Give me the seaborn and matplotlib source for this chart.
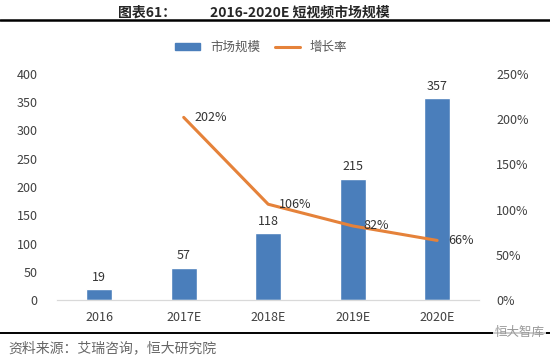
import numpy as np
import matplotlib
matplotlib.use("Agg")
import matplotlib.pyplot as plt
import seaborn as sns
from matplotlib.patches import Patch
from matplotlib.lines import Line2D

years = ["2016", "2017E", "2018E", "2019E", "2020E"]
market_size = [19, 57, 118, 215, 357]
growth_years = ["2017E", "2018E", "2019E", "2020E"]
growth_rate = [202, 106, 82, 66]

bar_color = "#4A7EBB"
line_color = "#E5823A"

sns.set_style("white")
plt.rcParams["font.family"] = ["Noto Sans CJK SC", "DejaVu Sans"]

fig = plt.figure(figsize=(5.5, 3.59), dpi=100)
ax = fig.add_axes([0.1036, 0.164, 0.768, 0.630])

sns.barplot(x=years, y=market_size, color=bar_color, width=0.31, saturation=1, ax=ax)
ax.set_ylim(0, 400)
ax.set_yticks(range(0, 401, 50))
ax.set_xlim(-0.5, len(years) - 0.5)
for i, v in enumerate(market_size):
    ax.annotate(str(v), (i, v), xytext=(0, 4), textcoords="offset points",
                ha="center", va="bottom", fontsize=9, color="#333333")

ax2 = ax.twinx()
pos = [years.index(y) for y in growth_years]
sns.lineplot(x=pos, y=growth_rate, color=line_color, linewidth=2.2, ax=ax2)
ax2.set_ylim(0, 250)
ax2.set_yticks(range(0, 251, 50))
ax2.set_yticklabels([f"{t}%" for t in range(0, 251, 50)])
for p, r in zip(pos, growth_rate):
    ax2.annotate(f"{r}%", (p, r), xytext=(8, 0), textcoords="offset points",
                 ha="left", va="center", fontsize=9, color="#333333")

for a in (ax, ax2):
    for s in ("top", "left", "right"):
        a.spines[s].set_visible(False)
    a.spines["bottom"].set_color("#D9D9D9")
    a.tick_params(length=0, labelsize=9, colors="#404040")
    a.set_xlabel("")
    a.set_ylabel("")
ax.tick_params(axis="y", pad=14)
ax2.tick_params(axis="y", pad=12)
ax.tick_params(axis="x", pad=8)

handles = [Patch(color=bar_color), Line2D([], [], color=line_color, linewidth=2.2)]
fig.legend(handles, ["市场规模", "增长率"], loc="center", bbox_to_anchor=(0.475, 0.868),
           ncol=2, frameon=False, fontsize=9, handlelength=2.0, handleheight=0.6,
           columnspacing=1.2, labelcolor="#595959")

fig.text(0.215, 0.965, "图表61：", fontsize=10, fontweight="bold", ha="left", va="center")
fig.text(0.382, 0.965, "2016-2020E 短视频市场规模", fontsize=10, fontweight="bold",
         ha="left", va="center")
fig.add_artist(Line2D([0, 1], [0.944, 0.944], color="black", linewidth=1.8))
fig.add_artist(Line2D([0, 1], [0.072, 0.072], color="black", linewidth=1.4))
fig.text(0.015, 0.030, "资料来源：艾瑞咨询，恒大研究院", fontsize=10, style="italic",
         color="#666666", ha="left", va="center")
fig.text(0.945, 0.075, "恒大智库", fontsize=9, color="#999999", ha="center", va="center",
         bbox=dict(facecolor="white", edgecolor="none", pad=1, alpha=0.8))

fig.savefig("out.png", dpi=100, facecolor="white")
